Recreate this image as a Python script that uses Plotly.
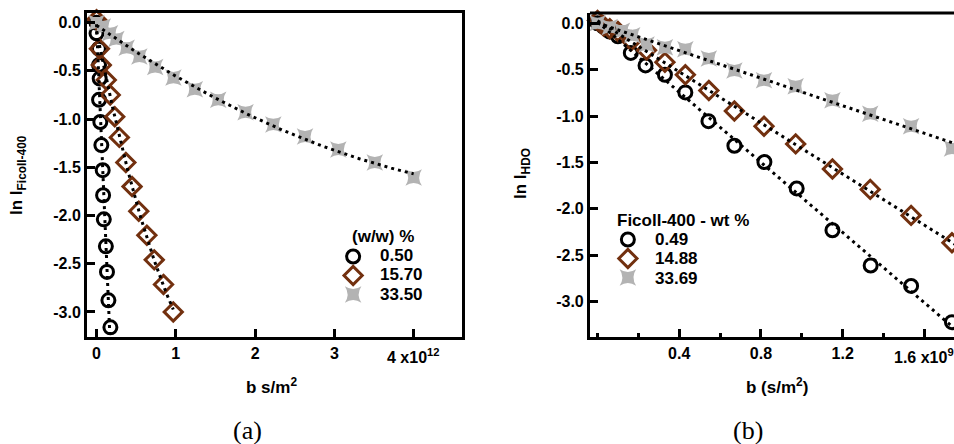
import numpy as np
import plotly.graph_objects as go

# ---------------- data (b in units of 1e12 for panel a, 1e9 for panel b) ----------------
a_b_050 = [0.0, 0.0, 0.03, 0.032, 0.04, 0.032, 0.048, 0.061, 0.078, 0.083, 0.092, 0.118, 0.132, 0.15, 0.175]
a_y_050 = [0.0, -0.11, -0.27, -0.44, -0.58, -0.80, -1.03, -1.27, -1.53, -1.79, -2.04, -2.32, -2.585, -2.88, -3.16]
a_b_1570 = [0.0, 0.037, 0.06, 0.123, 0.173, 0.23, 0.288, 0.37, 0.448, 0.533, 0.635, 0.728, 0.845, 0.968]
a_y_1570 = [0.03, -0.27, -0.44, -0.595, -0.75, -0.975, -1.19, -1.45, -1.70, -1.955, -2.205, -2.46, -2.715, -3.00]
a_b_3350 = [0.0, 0.08, 0.17, 0.25, 0.38, 0.54, 0.74, 0.97, 1.24, 1.535, 1.88, 2.23, 2.63, 3.05, 3.51, 4.00]
a_y_3350 = [0.0, -0.04, -0.11, -0.17, -0.26, -0.35, -0.46, -0.57, -0.69, -0.80, -0.93, -1.055, -1.18, -1.315, -1.45, -1.605]

b_b_049 = [0.0, 0.03, 0.06, 0.10, 0.163, 0.235, 0.33, 0.43, 0.543, 0.67, 0.817, 0.975, 1.15, 1.337, 1.535, 1.735]
b_y_049 = [0.0, -0.04, -0.09, -0.14, -0.32, -0.455, -0.555, -0.745, -1.055, -1.32, -1.495, -1.78, -2.23, -2.61, -2.83, -3.22]
b_b_1488 = [0.0, 0.03, 0.06, 0.10, 0.165, 0.24, 0.33, 0.43, 0.545, 0.67, 0.815, 0.97, 1.15, 1.335, 1.535, 1.735]
b_y_1488 = [0.03, -0.03, -0.06, -0.09, -0.19, -0.29, -0.42, -0.555, -0.725, -0.945, -1.11, -1.30, -1.57, -1.79, -2.07, -2.365]
b_b_3369 = [0.0, 0.06, 0.12, 0.17, 0.24, 0.33, 0.43, 0.545, 0.67, 0.815, 0.97, 1.15, 1.335, 1.535, 1.735]
b_y_3369 = [0.0, -0.04, -0.08, -0.13, -0.23, -0.26, -0.28, -0.38, -0.51, -0.615, -0.68, -0.83, -0.975, -1.11, -1.35]

a_labels = ["0.50", "15.70", "33.50"]
b_labels = ["0.49", "14.88", "33.69"]
y_tickvals = [0.0, -0.5, -1.0, -1.5, -2.0, -2.5, -3.0]
y_ticktext = ["0.0", "-0.5", "-1.0", "-1.5", "-2.0", "-2.5", "-3.0"]
a_x_tickvals = [0, 1, 2, 3, 4]
a_x_ticktext = ["0", "1", "2", "3", ""]
b_x_tickvals = [0.4, 0.8, 1.2, 1.6]
b_x_ticktext = ["0.4", "0.8", "1.2", ""]

BROWN = "#72300f"
GRAY = "#b3b3b3"
FONT = "Liberation Sans, Arial, sans-serif"

styles = [
    dict(symbol="circle-open", size=13, color="black", line=dict(width=3, color="black")),
    dict(symbol="diamond-open", size=14, color=BROWN, line=dict(width=3, color=BROWN)),
    dict(symbol="star-square", size=15, color=GRAY, line=dict(width=0)),
]

fig = go.Figure()

def add_panel(series, xa, ya, legend, degs, xmax):
    for (xs, ys), st in zip(series, styles):
        fig.add_trace(go.Scatter(x=xs, y=ys, mode="markers", name="", marker=st,
                                 xaxis=xa, yaxis=ya, legend=legend, cliponaxis=False))
    for (xs, ys), d in zip(series, degs):
        c = np.polyfit(xs, ys, d)
        xe = xmax if xmax is not None else max(xs)
        xl = np.linspace(0, xe, 100)
        fig.add_trace(go.Scatter(x=xl, y=np.polyval(c, xl), mode="lines", showlegend=False,
                                 line=dict(color="black", width=3, dash="3px,4px"),
                                 xaxis=xa, yaxis=ya, hoverinfo="skip"))

add_panel([(a_b_050, a_y_050), (a_b_1570, a_y_1570), (a_b_3350, a_y_3350)],
          "x", "y", "legend", [1, 2, 2], None)
add_panel([(b_b_049, b_y_049), (b_b_1488, b_y_1488), (b_b_3369, b_y_3369)],
          "x2", "y2", "legend2", [1, 1, 1], 1.85)

tickfont = dict(family=FONT, size=16, color="black", weight="bold")
axis_common = dict(showgrid=False, zeroline=False, showline=True, linewidth=3, linecolor="black",
                   ticks="inside", ticklen=8, tickwidth=3, tickcolor="black", tickfont=tickfont)

fig.update_layout(
    width=954, height=444, margin=dict(l=0, r=0, t=0, b=0),
    paper_bgcolor="white", plot_bgcolor="white", showlegend=True,
    xaxis=dict(domain=[0.0912, 0.4843], range=[-0.12, 4.61], tickvals=a_x_tickvals,
               ticktext=a_x_ticktext, mirror=True, anchor="y", **axis_common),
    yaxis=dict(domain=[0.241, 0.9707], range=[-3.26, 0.1], tickvals=y_tickvals,
               ticktext=y_ticktext, mirror=True, anchor="x", **axis_common),
    xaxis2=dict(domain=[0.6184, 1.0], range=[-0.037, 1.745], tickvals=b_x_tickvals,
                ticktext=b_x_ticktext, anchor="y2",
                minor=dict(ticks="inside", ticklen=4, tickwidth=3, tickcolor="black", dtick=0.2, tick0=0),
                **axis_common),
    yaxis2=dict(domain=[0.241, 0.9707], range=[-3.38, 0.11], tickvals=y_tickvals,
                ticktext=y_ticktext, anchor="x2", **axis_common),
    legend=dict(x=0.345, y=1 - 242 / 444, xanchor="left", yanchor="top", itemwidth=38,
                bgcolor="rgba(0,0,0,0)", font=dict(family=FONT, size=8, color="black")),
    legend2=dict(x=0.633, y=1 - 225 / 444, xanchor="left", yanchor="top", itemwidth=38,
                 bgcolor="rgba(0,0,0,0)", font=dict(family=FONT, size=8, color="black")),
)

fig.add_shape(type="line", xref="x2 domain", yref="y2 domain", x0=0, x1=1, y0=1, y1=1,
              line=dict(color="black", width=3))

bold = dict(family=FONT, color="black", weight="bold")
ann = [
    dict(text="(a)", x=248 / 954, y=1 - 430 / 444, font=dict(family="Liberation Serif, serif", size=26, color="black")),
    dict(text="(b)", x=748 / 954, y=1 - 430 / 444, font=dict(family="Liberation Serif, serif", size=26, color="black")),
    dict(text="ln I<sub>Ficoll-400</sub>", x=18 / 954, y=1 - 175 / 444, textangle=-90, font=dict(size=17, **bold)),
    dict(text="ln I<sub>HDO</sub>", x=522 / 954, y=1 - 174 / 444, textangle=-90, font=dict(size=17, **bold)),
    dict(text="b s/m<sup>2</sup>", x=271 / 954, y=1 - 386 / 444, font=dict(size=17, **bold)),
    dict(text="b (s/m<sup>2</sup>)", x=777 / 954, y=1 - 386 / 444, font=dict(size=17, **bold)),
    dict(text="(w/w) %", x=350 / 954, y=1 - 236 / 444, xanchor="left", font=dict(size=17, **bold)),
    dict(text="Ficoll-400 - wt %", x=615 / 954, y=1 - 220 / 444, xanchor="left", font=dict(size=17, **bold)),
]
# legend entry labels: rows ~19 px apart
for i, lab in enumerate(a_labels):
    ann.append(dict(text=lab, x=378 / 954, y=1 - (255 + 19.5 * i) / 444, xanchor="left", font=dict(size=17, **bold)))
for i, lab in enumerate(b_labels):
    ann.append(dict(text=lab, x=653 / 954, y=1 - (239 + 19.5 * i) / 444, xanchor="left", font=dict(size=17, **bold)))
for a in ann:
    a.setdefault("xanchor", "center")
    fig.add_annotation(xref="paper", yref="paper", yanchor="middle", showarrow=False, **a)

fig.add_annotation(text="4 x10<sup>12</sup>", xref="x", x=a_x_tickvals[-1], yref="paper",
                   y=1 - 344 / 444, yanchor="top", showarrow=False, font=dict(size=16, **bold))
fig.add_annotation(text="1.6 x10<sup>9</sup>", xref="x2", x=b_x_tickvals[-1], yref="paper",
                   y=1 - 344 / 444, yanchor="top", showarrow=False, font=dict(size=16, **bold))

fig.write_html("out.html")
